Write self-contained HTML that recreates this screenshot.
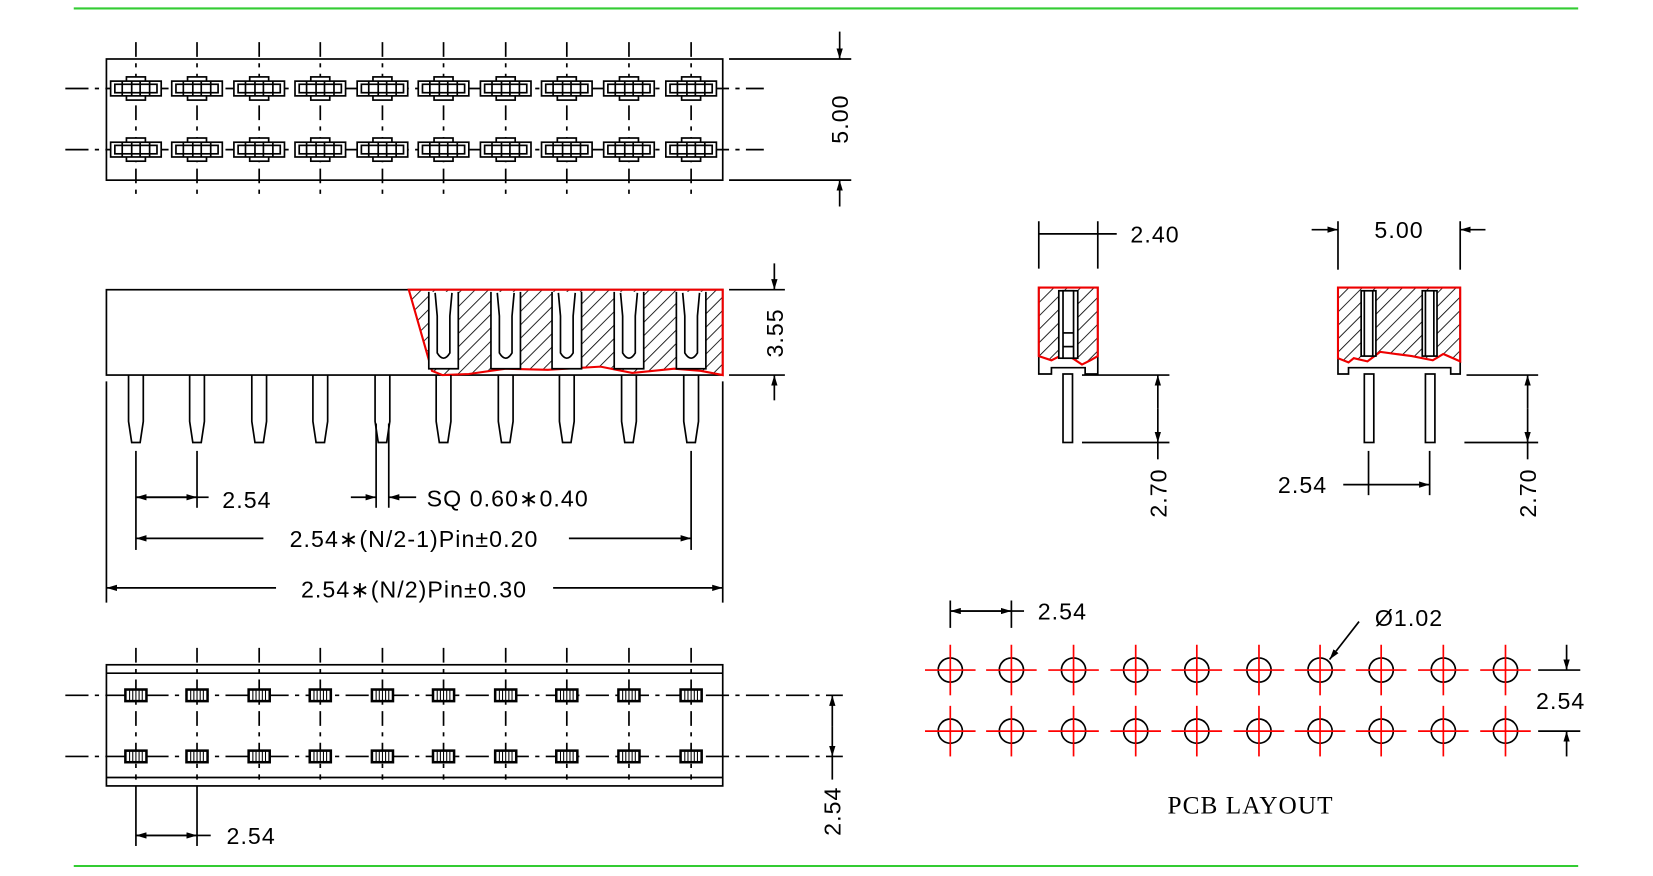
<!DOCTYPE html>
<html><head><meta charset="utf-8"><style>
html,body{margin:0;padding:0;background:#fff}
svg{display:block}
text{font-family:"Liberation Sans",sans-serif;font-size:22px;fill:#000;letter-spacing:1px}
</style></head><body>
<svg id="s" width="1653" height="876" viewBox="0 0 1569 831.5" xmlns="http://www.w3.org/2000/svg">
<defs>
<pattern id="h" width="9" height="9" patternUnits="userSpaceOnUse" patternTransform="rotate(45)">
<line x1="0" y1="0" x2="0" y2="9" stroke="#000" stroke-width="1.6"/></pattern>
<marker id="a" viewBox="0 0 10 6" refX="10" refY="3" markerWidth="10" markerHeight="6" orient="auto-start-reverse" markerUnits="userSpaceOnUse"><path d="M0,0L10,3L0,6z" fill="#000"/></marker>
</defs>
<g id="g" stroke="#000" stroke-width="1.6" fill="none">
<line x1="70" y1="8" x2="1498" y2="8" stroke="#3c3" stroke-width="2"/>
<line x1="70" y1="822" x2="1498" y2="822" stroke="#3c3" stroke-width="2"/>
<rect x="101" y="56" width="585" height="115"/>
<line x1="62" y1="84" x2="725" y2="84" stroke-dasharray="22,6,4,6"/>
<line x1="62" y1="142" x2="725" y2="142" stroke-dasharray="22,6,4,6"/>
<line x1="692" y1="56" x2="808" y2="56"/><line x1="692" y1="171" x2="808" y2="171"/>
<line x1="797" y1="30" x2="797" y2="56" marker-end="url(#a)"/>
<line x1="797" y1="196" x2="797" y2="171" marker-end="url(#a)"/>
<rect x="101" y="275" width="585" height="81"/>
<path d="M388,275 L686,275 L686,356 L665,352 L640,350 L600,354 L570,348 L520,351 L480,350 L445,355 L420,356 L410,352 Z" fill="url(#h)" stroke="#e00" stroke-width="2"/>
<line x1="692" y1="275" x2="745" y2="275"/><line x1="692" y1="356" x2="745" y2="356"/>
<line x1="735" y1="250" x2="735" y2="275" marker-end="url(#a)"/>
<line x1="735" y1="380" x2="735" y2="356" marker-end="url(#a)"/>
<line x1="129" y1="428" x2="129" y2="522"/><line x1="187" y1="428" x2="187" y2="482"/>
<line x1="656" y1="428" x2="656" y2="522"/>
<line x1="357" y1="402" x2="357" y2="482"/><line x1="369" y1="402" x2="369" y2="482"/>
<line x1="101" y1="362" x2="101" y2="572"/><line x1="686" y1="362" x2="686" y2="572"/>
<line x1="187" y1="472" x2="129" y2="472" marker-end="url(#a)"/><line x1="129" y1="472" x2="187" y2="472" marker-end="url(#a)"/><line x1="187" y1="472" x2="198" y2="472"/>
<line x1="333" y1="472" x2="357" y2="472" marker-end="url(#a)"/><line x1="395" y1="472" x2="369" y2="472" marker-end="url(#a)"/>
<line x1="250" y1="511" x2="129" y2="511" marker-end="url(#a)"/><line x1="540" y1="511" x2="656" y2="511" marker-end="url(#a)"/>
<line x1="262" y1="558" x2="101" y2="558" marker-end="url(#a)"/><line x1="525" y1="558" x2="686" y2="558" marker-end="url(#a)"/>
<rect x="101" y="631" width="585" height="115"/>
<line x1="101" y1="639" x2="686" y2="639"/><line x1="101" y1="738" x2="686" y2="738"/>
<line x1="62" y1="660" x2="800" y2="660" stroke-dasharray="22,6,4,6"/>
<line x1="62" y1="718" x2="800" y2="718" stroke-dasharray="22,6,4,6"/>
<line x1="790" y1="690" x2="790" y2="660" marker-end="url(#a)"/><line x1="790" y1="690" x2="790" y2="718" marker-end="url(#a)"/>
<line x1="790" y1="718" x2="790" y2="740"/>
<line x1="129" y1="746" x2="129" y2="803"/><line x1="187" y1="746" x2="187" y2="803"/>
<line x1="187" y1="793" x2="129" y2="793" marker-end="url(#a)"/><line x1="129" y1="793" x2="187" y2="793" marker-end="url(#a)"/><line x1="187" y1="793" x2="200" y2="793"/>
<line x1="986" y1="210" x2="986" y2="255"/><line x1="1042" y1="210" x2="1042" y2="255"/>
<line x1="986" y1="222" x2="1042" y2="222"/><line x1="1042" y1="222" x2="1060" y2="222"/>
<path d="M986,273 L1042,273 L1042,355 L1030,355 L1030,349 L998,349 L998,355 L986,355Z"/>
<path d="M986,273 L1042,273 L1042,338 L1035,342 L1027,346 L1018,340 L1008,337 L998,342 L986,338Z" fill="url(#h)" stroke="#e00" stroke-width="2"/>
<rect x="1005" y="276" width="18" height="64" fill="#fff"/><rect x="1009" y="276" width="10" height="64" fill="#fff"/>
<line x1="1009" y1="316" x2="1019" y2="316"/><line x1="1009" y1="329" x2="1019" y2="329"/>
<rect x="1009" y="355" width="9" height="65"/>
<line x1="1027" y1="356" x2="1110" y2="356"/><line x1="1027" y1="420" x2="1110" y2="420"/>
<line x1="1099" y1="388" x2="1099" y2="356" marker-end="url(#a)"/><line x1="1099" y1="388" x2="1099" y2="420" marker-end="url(#a)"/>
<line x1="1099" y1="420" x2="1099" y2="436"/>
<line x1="1270" y1="210" x2="1270" y2="256"/><line x1="1386" y1="210" x2="1386" y2="256"/>
<line x1="1245" y1="218" x2="1270" y2="218" marker-end="url(#a)"/><line x1="1410" y1="218" x2="1386" y2="218" marker-end="url(#a)"/>
<path d="M1270,273 L1386,273 L1386,355 L1377,355 L1377,349 L1280,349 L1280,355 L1270,355Z"/>
<path d="M1270,273 L1386,273 L1386,343 L1370,336 L1360,342 L1340,338 L1310,334 L1298,343 L1285,340 L1280,344 L1270,340Z" fill="url(#h)" stroke="#e00" stroke-width="2"/>
<rect x="1292" y="276" width="14" height="62" fill="#fff"/><rect x="1350" y="276" width="14" height="62" fill="#fff"/>
<line x1="1295" y1="276" x2="1295" y2="338"/><line x1="1303" y1="276" x2="1303" y2="338"/>
<line x1="1353" y1="276" x2="1353" y2="338"/><line x1="1361" y1="276" x2="1361" y2="338"/>
<rect x="1295" y="355" width="9" height="65"/><rect x="1353" y="355" width="9" height="65"/>
<line x1="1392" y1="356" x2="1460" y2="356"/><line x1="1390" y1="420" x2="1460" y2="420"/>
<line x1="1450" y1="388" x2="1450" y2="356" marker-end="url(#a)"/><line x1="1450" y1="388" x2="1450" y2="420" marker-end="url(#a)"/>
<line x1="1450" y1="420" x2="1450" y2="436"/>
<line x1="1299" y1="428" x2="1299" y2="470"/><line x1="1357" y1="428" x2="1357" y2="470"/>
<line x1="1299" y1="460" x2="1357" y2="460" marker-end="url(#a)"/><line x1="1275" y1="460" x2="1299" y2="460"/>
<line x1="902" y1="570" x2="902" y2="596"/><line x1="960" y1="570" x2="960" y2="596"/>
<line x1="960" y1="580" x2="902" y2="580" marker-end="url(#a)"/><line x1="902" y1="580" x2="960" y2="580" marker-end="url(#a)"/><line x1="960" y1="580" x2="972" y2="580"/>
<line x1="1290" y1="590" x2="1262" y2="626" marker-end="url(#a)"/>
<line x1="1460" y1="636" x2="1500" y2="636"/><line x1="1460" y1="694" x2="1500" y2="694"/>
<line x1="1487" y1="612" x2="1487" y2="636" marker-end="url(#a)"/><line x1="1487" y1="718" x2="1487" y2="694" marker-end="url(#a)"/>
</g>
<g font-size="22">
<text x="0" y="0" transform="translate(805,113) rotate(-90)" text-anchor="middle">5.00</text>
<text x="0" y="0" transform="translate(743,316) rotate(-90)" text-anchor="middle">3.55</text>
<text x="211" y="482">2.54</text>
<text x="405" y="481">SQ  0.60∗0.40</text>
<text x="393" y="519" text-anchor="middle">2.54∗(N/2-1)Pin±0.20</text>
<text x="393" y="567" text-anchor="middle">2.54∗(N/2)Pin±0.30</text>
<text x="0" y="0" transform="translate(798,770) rotate(-90)" text-anchor="middle">2.54</text>
<text x="215" y="801">2.54</text>
<text x="1073" y="230">2.40</text>
<text x="1328" y="226" text-anchor="middle">5.00</text>
<text x="0" y="0" transform="translate(1107,468) rotate(-90)" text-anchor="middle">2.70</text>
<text x="0" y="0" transform="translate(1458,468) rotate(-90)" text-anchor="middle">2.70</text>
<text x="1213" y="468">2.54</text>
<text x="985" y="588">2.54</text>
<text x="1305" y="594">Ø1.02</text>
<text x="1458" y="673">2.54</text>
<text x="1187" y="772" text-anchor="middle" style="font-family:'Liberation Serif',serif;font-size:24px">PCB  LAYOUT</text>
</g>
<script>
var g=document.getElementById('g'),NS='http://www.w3.org/2000/svg';
function el(t,a){var e=document.createElementNS(NS,t);for(var k in a)e.setAttribute(k,a[k]);g.appendChild(e);return e;}
var xs=[129,187,246,304,363,421,480,538,597,656];
xs.forEach(function(x,i){
 el('line',{x1:x,y1:40,x2:x,y2:186,'stroke-dasharray':'14,6,4,6'});
 [84,142].forEach(function(y){
  el('rect',{x:x-9,y:y-11,width:18,height:22,fill:'#fff'});
  el('rect',{x:x-24,y:y-7,width:48,height:14,fill:'#fff'});
  el('rect',{x:x-20,y:y-4,width:40,height:8});
  el('line',{x1:x-13,y1:y-7,x2:x-13,y2:y+7});el('line',{x1:x+13,y1:y-7,x2:x+13,y2:y+7});
  el('line',{x1:x-4,y1:y-7,x2:x-4,y2:y+7});el('line',{x1:x+4,y1:y-7,x2:x+4,y2:y+7});
 });
 el('path',{d:'M'+(x-7)+',356 L'+(x-7)+',400 L'+(x-4)+',420 L'+(x+4)+',420 L'+(x+7)+',400 L'+(x+7)+',356'});
 if(x>400){
  el('path',{d:'M'+(x-14)+',277 L'+(x-14)+',350 L'+(x+14)+',350 L'+(x+14)+',277',fill:'#fff',stroke:'#000'});
  el('path',{d:'M'+(x-8)+',278 L'+(x-6)+',300 L'+(x-6)+',335 Q'+x+',345 '+(x+6)+',335 L'+(x+6)+',300 L'+(x+8)+',278'});
 }
 el('line',{x1:x,y1:615,x2:x,y2:740,'stroke-dasharray':'14,6,4,6'});
 [660,718].forEach(function(y){
  el('rect',{x:x-10,y:y-5.5,width:20,height:11,fill:'#fff','stroke-width':2.4});
  for(var k=-6;k<=6;k+=3)el('line',{x1:x+k,y1:y-5,x2:x+k,y2:y+5,'stroke-width':1});
 });
});
var px=[902,960,1019,1078,1136,1195,1253,1311,1370,1429];
px.forEach(function(x){[636,694].forEach(function(y){
 el('circle',{cx:x,cy:y,r:11.5});
 el('line',{x1:x-24,y1:y,x2:x+24,y2:y,stroke:'#f00'});
 el('line',{x1:x,y1:y-24,x2:x,y2:y+24,stroke:'#f00'});
});});
</script>
</svg>
</body></html>
